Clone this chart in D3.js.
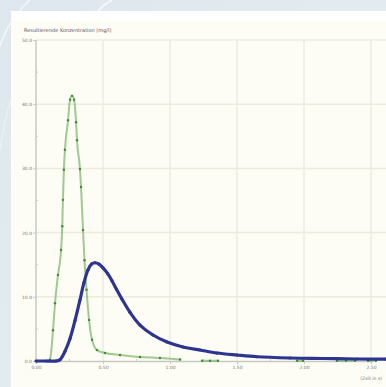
<!DOCTYPE html>
<html>
<head>
<meta charset="utf-8">
<script src="https://cdn.jsdelivr.net/npm/d3@7/dist/d3.min.js"></script>
<style>
  html, body { margin: 0; padding: 0; }
  body { width: 386px; height: 387px; overflow: hidden; background: #e3eaef; }
  svg { display: block; font-family: "DejaVu Sans", sans-serif; }
</style>
</head>
<body>
<div id="chart"></div>
<script>
// chart values
const chartTitle = 'Resultierende Konzentration (mg/l)';
const xUnitLabel = '(Zeit in s)';
const xTicks = [0, 0.5, 1.0, 1.5, 2.0, 2.5];
const yTicks = [0, 10, 20, 30, 40, 50];

const greenX = [0.09, 0.104, 0.127, 0.142, 0.164, 0.187, 0.196, 0.201, 0.208, 0.216, 0.239, 0.254, 0.269,
  0.284, 0.299, 0.306, 0.328, 0.336, 0.351, 0.362, 0.377, 0.396, 0.418, 0.455, 0.515, 0.627, 0.776, 0.925, 1.075,
  1.15, 1.239, 1.299, 1.358, 1.5, 1.948, 1.993, 2.1, 2.246, 2.313, 2.381, 2.43, 2.478, 2.537];
const greenY = [0, 0.2, 4.8, 9.0, 13.4, 17.3, 21.0, 25.1, 29.8, 32.9, 37.5, 40.7, 41.3,
  40.7, 37.2, 34.4, 29.9, 27.1, 20.4, 15.7, 11.1, 6.4, 3.3, 1.7, 1.25, 0.93, 0.62, 0.47, 0.23,
  null, 0.05, 0.05, 0.05, null, 0.05, 0.05, null, 0.05, 0.05, 0.05, null, 0.05, 0.05];

const blueX = [0, 0.08, 0.149, 0.179, 0.216, 0.254, 0.291, 0.328, 0.358, 0.388, 0.415, 0.44, 0.47, 0.5, 0.535,
  0.567, 0.6, 0.64, 0.701, 0.776, 0.873, 0.978, 1.097, 1.224, 1.351, 1.5, 1.649, 1.896, 2.142, 2.396, 2.612];
const blueY = [0, 0, 0, 0.2, 1.5, 3.5, 6.3, 9.5, 12.2, 14.2, 15.1, 15.3, 15.1, 14.5, 13.6,
  12.5, 11.2, 9.7, 7.6, 5.6, 4.05, 2.96, 2.18, 1.71, 1.25, 0.93, 0.66, 0.47, 0.39, 0.31, 0.3];

const W = 386, H = 387;
const svg = d3.select('#chart').append('svg').attr('width', W).attr('height', H);

// background decoration
const defs = svg.append('defs');
const bg = defs.append('linearGradient').attr('id', 'bg').attr('x1', 0).attr('y1', 0).attr('x2', 1).attr('y2', 1);
bg.append('stop').attr('offset', 0).attr('stop-color', '#dfe7ee');
bg.append('stop').attr('offset', 1).attr('stop-color', '#e8eef2');
svg.append('rect').attr('width', W).attr('height', H).attr('fill', 'url(#bg)');
svg.append('path').attr('d', 'M0,46 Q8,20 30,0').attr('fill', 'none').attr('stroke', '#f4f7fa').attr('stroke-width', 1.5);
svg.append('path').attr('d', 'M98,11 Q104,4 112,0').attr('fill', 'none').attr('stroke', '#f4f7fa').attr('stroke-width', 2);
svg.append('path').attr('d', 'M0,150 Q4,120 11,100').attr('fill', 'none').attr('stroke', '#edf2f6').attr('stroke-width', 1);

// panel
svg.append('rect').attr('x', 11).attr('y', 11).attr('width', W - 11).attr('height', H - 11).attr('fill', '#ffffff');
svg.append('rect').attr('x', 11).attr('y', 21).attr('width', W - 11).attr('height', H - 21).attr('fill', '#fdfdf5');

svg.append('text').attr('x', 24).attr('y', 32).attr('font-size', 5).attr('fill', '#555')
  .text(chartTitle);

const x = d3.scaleLinear().domain([0, 2.5]).range([36, 371]);
const y = d3.scaleLinear().domain([0, 50]).range([361, 40]);

// grid
const grid = svg.append('g').attr('stroke', '#ecebde').attr('stroke-width', 1.5);
grid.selectAll('line.v').data(xTicks.slice(1)).enter().append('line')
  .attr('x1', d => x(d)).attr('x2', d => x(d)).attr('y1', 40).attr('y2', 361);
grid.selectAll('line.h').data(yTicks.slice(1)).enter().append('line')
  .attr('x1', 36).attr('x2', W).attr('y1', d => y(d)).attr('y2', d => y(d));

// axes
const yAxis = svg.append('g').attr('transform', 'translate(36,0)')
  .call(d3.axisLeft(y).tickValues(yTicks).tickSize(3).tickPadding(1).tickFormat(d3.format('.1f')));
const xAxis = svg.append('g').attr('transform', 'translate(0,361)')
  .call(d3.axisBottom(x).tickValues(xTicks).tickSize(3).tickPadding(2).tickFormat(d3.format('.2f')));
[yAxis, xAxis].forEach(a => {
  a.select('.domain').attr('stroke', '#c9c9c4').attr('stroke-width', 1.5);
  a.selectAll('.tick line').attr('stroke', '#c9c9c4');
  a.selectAll('text').attr('font-size', 4.5).attr('fill', '#777').attr('font-family', '"DejaVu Sans", sans-serif');
});
yAxis.select('.domain').attr('d', 'M0,40V361');

// minor ticks
const minorY = yTicks.slice(1).map(d => d - 5);
svg.append('g').selectAll('line').data(minorY).enter().append('line')
  .attr('x1', 36).attr('x2', 38).attr('y1', d => y(d)).attr('y2', d => y(d)).attr('stroke', '#ccc');
const minorX = xTicks.slice(1).map(d => d - 0.25);
svg.append('g').selectAll('line').data(minorX).enter().append('line')
  .attr('x1', d => x(d)).attr('x2', d => x(d)).attr('y1', 359).attr('y2', 361).attr('stroke', '#ccc');

svg.append('text').attr('x', 382).attr('y', 380).attr('text-anchor', 'end')
  .attr('font-size', 4.5).attr('fill', '#777').text(xUnitLabel);

// series
const green = greenX.map((d, i) => ({ x: d, y: greenY[i] }));
const blue = blueX.map((d, i) => ({ x: d, y: blueY[i] }));

const greenLine = d3.line().defined(d => d.y !== null)
  .x(d => x(d.x)).y(d => y(d.y)).curve(d3.curveMonotoneX);
svg.append('path').datum(green).attr('d', greenLine)
  .attr('fill', 'none').attr('stroke', '#78b368').attr('stroke-width', 2).attr('stroke-opacity', 0.7);
svg.append('g').selectAll('circle').data(green.filter(d => d.y !== null)).enter().append('circle')
  .attr('cx', d => x(d.x)).attr('cy', d => y(d.y)).attr('r', 1.2).attr('fill', '#3f8a34');

const blueLine = d3.line().x(d => x(d.x)).y(d => y(d.y)).curve(d3.curveCatmullRom.alpha(0.5));
svg.append('path').datum(blue).attr('d', blueLine)
  .attr('fill', 'none').attr('stroke', '#2e3590').attr('stroke-width', 3.2).attr('stroke-linejoin', 'round');
svg.append('g').selectAll('circle').data(blue).enter().append('circle')
  .attr('cx', d => x(d.x)).attr('cy', d => y(d.y)).attr('r', 1.6).attr('fill', '#2e3590');
</script>
</body>
</html>
